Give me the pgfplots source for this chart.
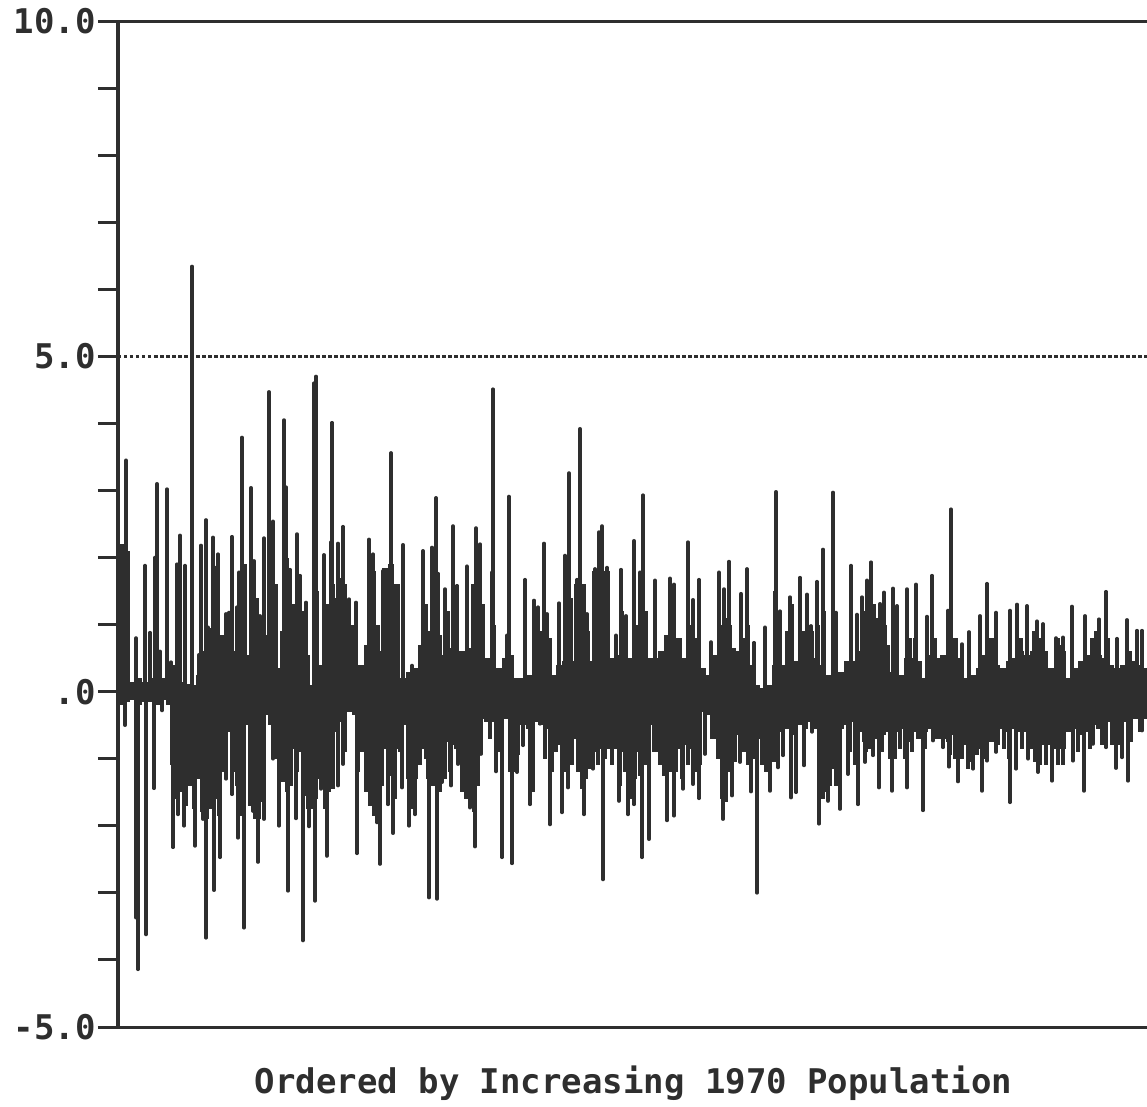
\documentclass[border=0pt]{standalone}
\usepackage{pgfplots}
\usepackage{fontspec}
\setmonofont{DejaVu Sans Mono}
\pgfplotsset{compat=1.18}
\definecolor{ink}{HTML}{2E2E2E}
\begin{document}
\begin{tikzpicture}[x=1pt,y=1pt]
\useasboundingbox (-118pt,-79pt) rectangle (1029pt,1027pt);
\begin{axis}[
  at={(0pt,0pt)},anchor=south west,
  scale only axis,width=1029pt,height=1006pt,
  xmin=118,xmax=1147,ymin=-5,ymax=10,
  clip=false,
  axis y line=left,axis x line=bottom,
  x axis line style={-,line width=3pt,color=ink},
  y axis line style={-,line width=4.5pt,color=ink},
  xtick=\empty,
  ytick={-5,-4,-3,-2,-1,0,1,2,3,4,5,6,7,8,9,10},
  yticklabels={-5.0,,,,,.0,,,,,5.0,,,,,10.0},
  tick align=outside,
  major tick length=20pt,
  ytick style={line width=3pt,color=ink},
  yticklabel style={font=\ttfamily\bfseries\fontsize{34}{36}\selectfont,text=ink,inner sep=0pt,xshift=-2pt},
  xlabel={\ttfamily\bfseries\fontsize{34}{36}\selectfont Ordered by Increasing 1970 Population},
  xlabel style={text=ink,at={(axis description cs:0.501,0)},anchor=center,yshift=-56pt,inner sep=0pt},
]
% top frame and reference line
\addplot[ink,line width=3pt] coordinates {(118,10)(1147,10)};
\addplot[ink,line width=2.6pt,dash pattern=on 3.5pt off 2.5pt] coordinates {(118,5)(1147,5)};
\addplot[ink,line width=3pt] coordinates {(118,0)(1147,0)};
% body, upward
\addplot[ycomb,no marks,ink,line width=6.2pt] coordinates {
(121,2.2)(127,2.1)(133,.15)(139,.2)(145,.15)(151,.2)(157,.15)(163,.2)(169,.3)(175,.4)(181,.15)(187,.12)(193,.1)(199,.25)(205,.6)(211,.95)(217,.95)(223,.85)(229,.55)(235,.6)(241,1.15)(247,.55)(253,.55)(259,.6)(265,.85)(271,.95)(277,.35)(283,.9)(289,1.0)(295,1.0)(301,.85)(307,.55)(313,.1)(319,.4)(325,.95)(331,1.0)(337,1.05)(343,.95)(349,.8)(355,.65)(361,.4)(367,.7)(373,.8)(379,.6)(385,1.85)(391,1.9)(397,1.6)(403,.2)(409,.3)(415,.35)(421,.7)(427,.9)(433,.9)(439,.85)(445,.55)(451,.65)(457,.6)(463,.6)(469,.65)(475,1.3)(481,1.3)(487,.5)(493,.5)(499,.35)(505,.5)(511,.55)(517,.2)(523,.2)(529,.25)(535,.25)(541,.3)(547,.2)(553,.25)(559,.4)(565,.45)(571,.45)(577,1.6)(583,1.6)(589,.45)(595,1.8)(601,1.85)(607,1.8)(613,.5)(619,.55)(625,.55)(631,.5)(637,.6)(643,.7)(649,.5)(655,.5)(661,.6)(667,.85)(673,.95)(679,.8)(685,.5)(691,.55)(697,.45)(703,.35)(709,.25)(715,.55)(721,.65)(727,.6)(733,.65)(739,.6)(745,.55)(751,.4)(757,.1)(763,.05)(769,.1)(775,.4)(781,.4)(787,.4)(793,.45)(799,.45)(805,.5)(811,.55)(817,.5)(823,.4)(829,.25)(835,.35)(841,.3)(847,.45)(853,.45)(859,.6)(865,.75)(871,1.15)(877,.9)(883,.45)(889,.3)(895,.2)(901,.25)(907,.5)(913,.5)(919,.45)(925,.2)(931,.55)(937,.5)(943,.55)(949,.85)(955,.8)(961,.5)(967,.2)(973,.25)(979,.35)(985,.55)(991,.8)(997,.4)(1003,.35)(1009,.45)(1015,.5)(1021,.6)(1027,.55)(1033,.6)(1039,.65)(1045,.6)(1051,.35)(1057,.55)(1063,.6)(1069,.2)(1075,.35)(1081,.45)(1087,.55)(1093,.6)(1099,.55)(1105,.5)(1111,.4)(1117,.35)(1123,.4)(1129,.4)(1135,.45)(1141,.4)(1144,.35)
};
% body, downward
\addplot[ycomb,no marks,ink,line width=6.2pt] coordinates {
(121,-.2)(127,-.15)(133,-.12)(139,-.2)(145,-.15)(151,-.15)(157,-.2)(163,-.12)(169,-.2)(175,-.8)(181,-.75)(187,-.95)(193,-.8)(199,-.7)(205,-1.3)(211,-1.35)(217,-1.3)(223,-.9)(229,-.6)(235,-.85)(241,-1.0)(247,-.5)(253,-1.6)(259,-1.65)(265,-.35)(271,-.5)(277,-1.0)(283,-1.05)(289,-1.1)(295,-.85)(301,-.9)(307,-1.0)(313,-1.1)(319,-.9)(325,-1.05)(331,-1.0)(337,-.6)(343,-.45)(349,-.3)(355,-.35)(361,-.9)(367,-1.15)(373,-1.4)(379,-1.35)(385,-.85)(391,-.9)(397,-.85)(403,-.5)(409,-.5)(415,-.55)(421,-.85)(427,-1.0)(433,-1.0)(439,-1.15)(445,-.75)(451,-.8)(457,-.85)(463,-1.0)(469,-1.2)(475,-1.2)(481,-.4)(487,-.45)(493,-.45)(499,-.5)(505,-.4)(511,-.9)(517,-.95)(523,-.5)(529,-.55)(535,-.45)(541,-.5)(547,-.55)(553,-.5)(559,-.8)(565,-.9)(571,-.9)(577,-.7)(583,-1.05)(589,-1.05)(595,-.9)(601,-.85)(607,-.85)(613,-.85)(619,-.85)(625,-.9)(631,-.9)(637,-.9)(643,-.8)(649,-.5)(655,-.9)(661,-.95)(667,-.95)(673,-.9)(679,-.85)(685,-.8)(691,-.85)(697,-.9)(703,-.3)(709,-.35)(715,-.7)(721,-.8)(727,-.75)(733,-.75)(739,-.65)(745,-.6)(751,-.75)(757,-.7)(763,-.75)(769,-.8)(775,-.7)(781,-.6)(787,-.55)(793,-.65)(799,-.5)(805,-.55)(811,-.45)(817,-.55)(823,-1.25)(829,-1.2)(835,-1.15)(841,-.55)(847,-.5)(853,-.45)(859,-.6)(865,-.75)(871,-.7)(877,-.7)(883,-.65)(889,-.6)(895,-.6)(901,-.55)(907,-.75)(913,-.6)(919,-.7)(925,-.6)(931,-.55)(937,-.7)(943,-.7)(949,-.75)(955,-.65)(961,-.75)(967,-.8)(973,-.85)(979,-.85)(985,-.75)(991,-.75)(997,-.8)(1003,-.55)(1009,-.6)(1015,-.55)(1021,-.6)(1027,-.6)(1033,-.85)(1039,-.9)(1045,-.8)(1051,-.8)(1057,-.85)(1063,-.85)(1069,-.6)(1075,-.55)(1081,-.65)(1087,-.6)(1093,-.5)(1099,-.55)(1105,-.5)(1111,-.45)(1117,-.5)(1123,-.45)(1129,-.5)(1135,-.4)(1141,-.45)(1144,-.4)
};
% middle layer, upward
\addplot[ycomb,no marks,ink,line width=4.5pt] coordinates {
(214,1.6)(218,1.85)(242,2.1)(245,1.9)(254,1.5)(257,1.4)(273,2.2)(276,1.6)(285,2.5)(287,2.0)(289,1.6)(293,1.3)(298,1.5)(302,1.2)(314,1.5)(317,1.5)(328,1.3)(333,1.6)(336,1.4)(340,1.7)(345,1.6)(352,1.0)(370,1.6)(374,1.8)(378,1.0)(423,1.6)(426,1.3)(432,1.9)(435,1.6)(438,1.4)(445,1.4)(448,1.2)(457,1.2)(473,1.6)(476,1.8)(480,1.6)(483,1.3)(492,1.3)(494,1.0)(525,.8)(534,1.0)(538,1.0)(541,.9)(547,1.0)(550,.8)(565,1.4)(568,1.7)(571,1.4)(580,1.7)(588,.9)(597,1.5)(604,1.7)(622,1.2)(634,1.0)(637,1.0)(643,1.5)(646,1.2)(655,1.0)(670,1.2)(674,1.2)(690,1.0)(693,1.1)(696,.8)(722,1.0)(727,1.1)(730,1.0)(745,.8)(748,1.0)(775,1.5)(778,1.2)(787,.9)(792,1.3)(803,.9)(808,1.0)(812,.9)(818,1.0)(824,1.2)(835,1.15)(866,1.2)(869,1.5)(874,1.3)(877,1.1)(885,1.0)(888,.7)(893,1.0)(896,.9)(910,.8)(915,.8)(932,1.0)(935,.8)(948,1.1)(1021,.8)(1034,.9)(1040,.8)(1058,.8)(1062,.7)(1092,.8)(1096,.9)(1108,.8)(1130,.6)
};
% middle layer, downward
\addplot[ycomb,no marks,ink,line width=4.5pt] coordinates {
(172,-1.1)(176,-1.6)(181,-1.5)(186,-1.7)(190,-1.4)(194,-1.75)(199,-1.3)(202,-1.8)(207,-1.9)(211,-1.75)(215,-1.6)(219,-1.85)(224,-1.2)(234,-1.2)(237,-1.4)(240,-1.85)(243,-1.5)(250,-1.7)(255,-1.9)(259,-1.9)(262,-1.5)(279,-1.4)(283,-1.35)(287,-1.5)(291,-1.4)(297,-1.2)(304,-1.55)(308,-1.75)(312,-1.75)(316,-1.6)(320,-1.3)(325,-1.75)(329,-1.5)(333,-1.45)(345,-.9)(358,-1.2)(366,-1.5)(370,-1.7)(374,-1.85)(378,-1.9)(382,-1.4)(390,-1.25)(395,-1.6)(400,-.9)(408,-1.3)(412,-1.75)(416,-1.3)(420,-1.1)(428,-1.3)(433,-1.4)(440,-1.5)(445,-1.3)(450,-1.2)(462,-1.5)(466,-1.6)(470,-1.7)(474,-1.8)(478,-1.4)(490,-.7)(498,-.9)(510,-1.2)(514,-1.2)(530,-1.4)(533,-1.5)(545,-1.0)(552,-1.2)(556,-.9)(562,-1.3)(566,-1.2)(572,-1.1)(578,-1.2)(582,-1.45)(586,-1.3)(590,-1.15)(598,-1.1)(605,-1.0)(612,-1.1)(620,-1.4)(625,-1.2)(630,-1.6)(635,-1.3)(640,-1.25)(646,-1.1)(660,-1.1)(664,-1.25)(670,-1.2)(676,-1.2)(682,-1.3)(688,-1.1)(695,-1.2)(700,-1.1)(712,-.7)(718,-1.0)(722,-1.6)(726,-1.65)(730,-1.2)(735,-1.05)(744,-.9)(748,-1.1)(755,-1.0)(762,-1.1)(766,-1.2)(774,-1.05)(819,-1.6)(823,-1.6)(826,-1.5)(830,-1.4)(836,-1.4)(850,-.9)(855,-1.1)(866,-.9)(870,-.85)(882,-.9)(890,-1.0)(895,-1.0)(900,-.85)(905,-1.0)(912,-.9)(925,-.85)(950,-.95)(955,-1.0)(962,-1.0)(968,-1.15)(972,-1.05)(977,-.95)(985,-1.0)(1004,-.85)(1009,-1.0)(1022,-.85)(1035,-1.05)(1040,-1.1)(1046,-1.1)(1058,-1.1)(1063,-1.1)(1078,-.9)(1090,-.85)(1102,-.8)(1112,-.8)(1120,-.8)(1131,-.75)(1140,-.6)
};
% peaks, upward
\addplot[ycomb,no marks,ink,line width=3.6pt,line cap=round] coordinates {
(126,3.45)(136,.8)(145,1.88)(150,.88)(155,2.0)(157,3.1)(160,.6)(167,3.02)(171,.44)(177,1.9)(180,2.33)(185,1.88)(192,6.34)(199,.55)(201,2.18)(206,2.56)(208,.96)(213,2.3)(216,1.85)(218,2.05)(226,1.16)(229,1.18)(232,2.31)(237,1.26)(239,1.78)(242,3.79)(251,3.04)(254,1.95)(260,1.13)(264,2.29)(269,4.47)(273,2.54)(284,4.05)(286,3.05)(290,1.82)(297,2.35)(300,1.73)(306,1.33)(314,4.6)(316,4.7)(324,2.04)(331,2.23)(332,4.01)(338,2.21)(343,2.46)(349,1.38)(356,1.33)(369,2.27)(373,2.05)(383,1.8)(391,3.56)(403,2.19)(412,.39)(423,2.1)(432,2.15)(436,2.89)(438,1.76)(445,1.53)(453,2.47)(457,1.58)(467,1.87)(476,2.44)(480,2.2)(492,1.78)(493,4.51)(507,.84)(509,2.91)(525,1.67)(534,1.36)(538,1.26)(544,2.21)(547,1.16)(559,1.32)(565,2.03)(569,3.26)(577,1.67)(580,3.92)(587,1.16)(595,1.83)(599,2.38)(602,2.47)(607,1.85)(616,.84)(621,1.82)(626,1.13)(634,2.25)(640,1.78)(643,2.93)(655,1.66)(670,1.69)(674,1.6)(688,2.23)(693,1.37)(699,1.67)(711,.74)(719,1.78)(724,1.53)(729,1.94)(741,1.46)(747,1.83)(754,.73)(765,.96)(776,2.98)(780,1.2)(790,1.41)(800,1.7)(807,1.45)(811,.98)(817,1.64)(823,2.12)(833,2.97)(836,1.18)(851,1.88)(857,1.15)(862,1.41)(867,1.66)(871,1.93)(880,1.31)(884,1.48)(893,1.54)(897,1.28)(907,1.53)(916,1.6)(927,1.12)(932,1.73)(948,1.21)(951,2.72)(962,.71)(969,.89)(980,1.13)(987,1.61)(996,1.18)(1010,1.21)(1017,1.3)(1027,1.28)(1037,1.05)(1043,1.01)(1056,.8)(1063,.81)(1072,1.27)(1085,1.13)(1099,1.08)(1106,1.49)(1117,.79)(1127,1.07)(1137,.91)(1142,.91)
};
% peaks, downward
\addplot[ycomb,no marks,ink,line width=3.6pt,line cap=round] coordinates {
(125,-.5)(136,-3.37)(138,-4.14)(146,-3.62)(154,-1.44)(162,-.28)(173,-2.32)(178,-1.83)(184,-2.0)(195,-2.3)(203,-1.9)(206,-3.67)(214,-2.96)(220,-2.47)(226,-1.3)(232,-1.53)(238,-2.18)(244,-3.52)(253,-1.78)(258,-2.54)(264,-1.9)(273,-1.0)(279,-2.0)(288,-2.97)(296,-1.89)(303,-3.71)(309,-2.01)(315,-3.12)(321,-1.45)(327,-2.45)(338,-1.4)(343,-1.08)(357,-2.41)(370,-1.5)(377,-1.95)(380,-2.57)(388,-1.68)(393,-2.11)(402,-1.43)(409,-2.0)(415,-1.83)(429,-3.07)(437,-3.09)(442,-1.35)(451,-1.4)(458,-1.08)(470,-1.73)(475,-2.31)(481,-.93)(496,-1.19)(502,-2.47)(512,-2.56)(517,-1.2)(523,-.8)(530,-1.68)(540,-.48)(550,-1.98)(562,-1.8)(568,-1.43)(584,-1.83)(593,-1.15)(603,-2.8)(619,-1.63)(628,-1.83)(634,-1.68)(642,-2.47)(649,-2.2)(667,-1.92)(674,-1.85)(683,-1.45)(693,-1.38)(699,-1.59)(705,-.93)(723,-1.9)(732,-1.55)(740,-1.05)(751,-1.49)(757,-3.0)(770,-1.48)(778,-1.13)(783,-.95)(791,-1.58)(796,-1.5)(804,-1.1)(812,-.6)(819,-1.97)(828,-1.63)(840,-1.75)(848,-1.23)(858,-1.68)(865,-1.05)(873,-.95)(879,-1.43)(892,-1.48)(907,-1.43)(923,-1.77)(933,-.73)(943,-.83)(949,-1.12)(958,-1.34)(973,-1.15)(982,-1.48)(987,-1.03)(996,-.9)(1010,-1.65)(1016,-1.15)(1028,-1.0)(1038,-1.2)(1052,-1.33)(1073,-1.03)(1084,-1.48)(1093,-.78)(1106,-.83)(1116,-1.14)(1122,-.98)(1128,-1.33)(1142,-.58)
};
\end{axis}
\end{tikzpicture}
\end{document}
